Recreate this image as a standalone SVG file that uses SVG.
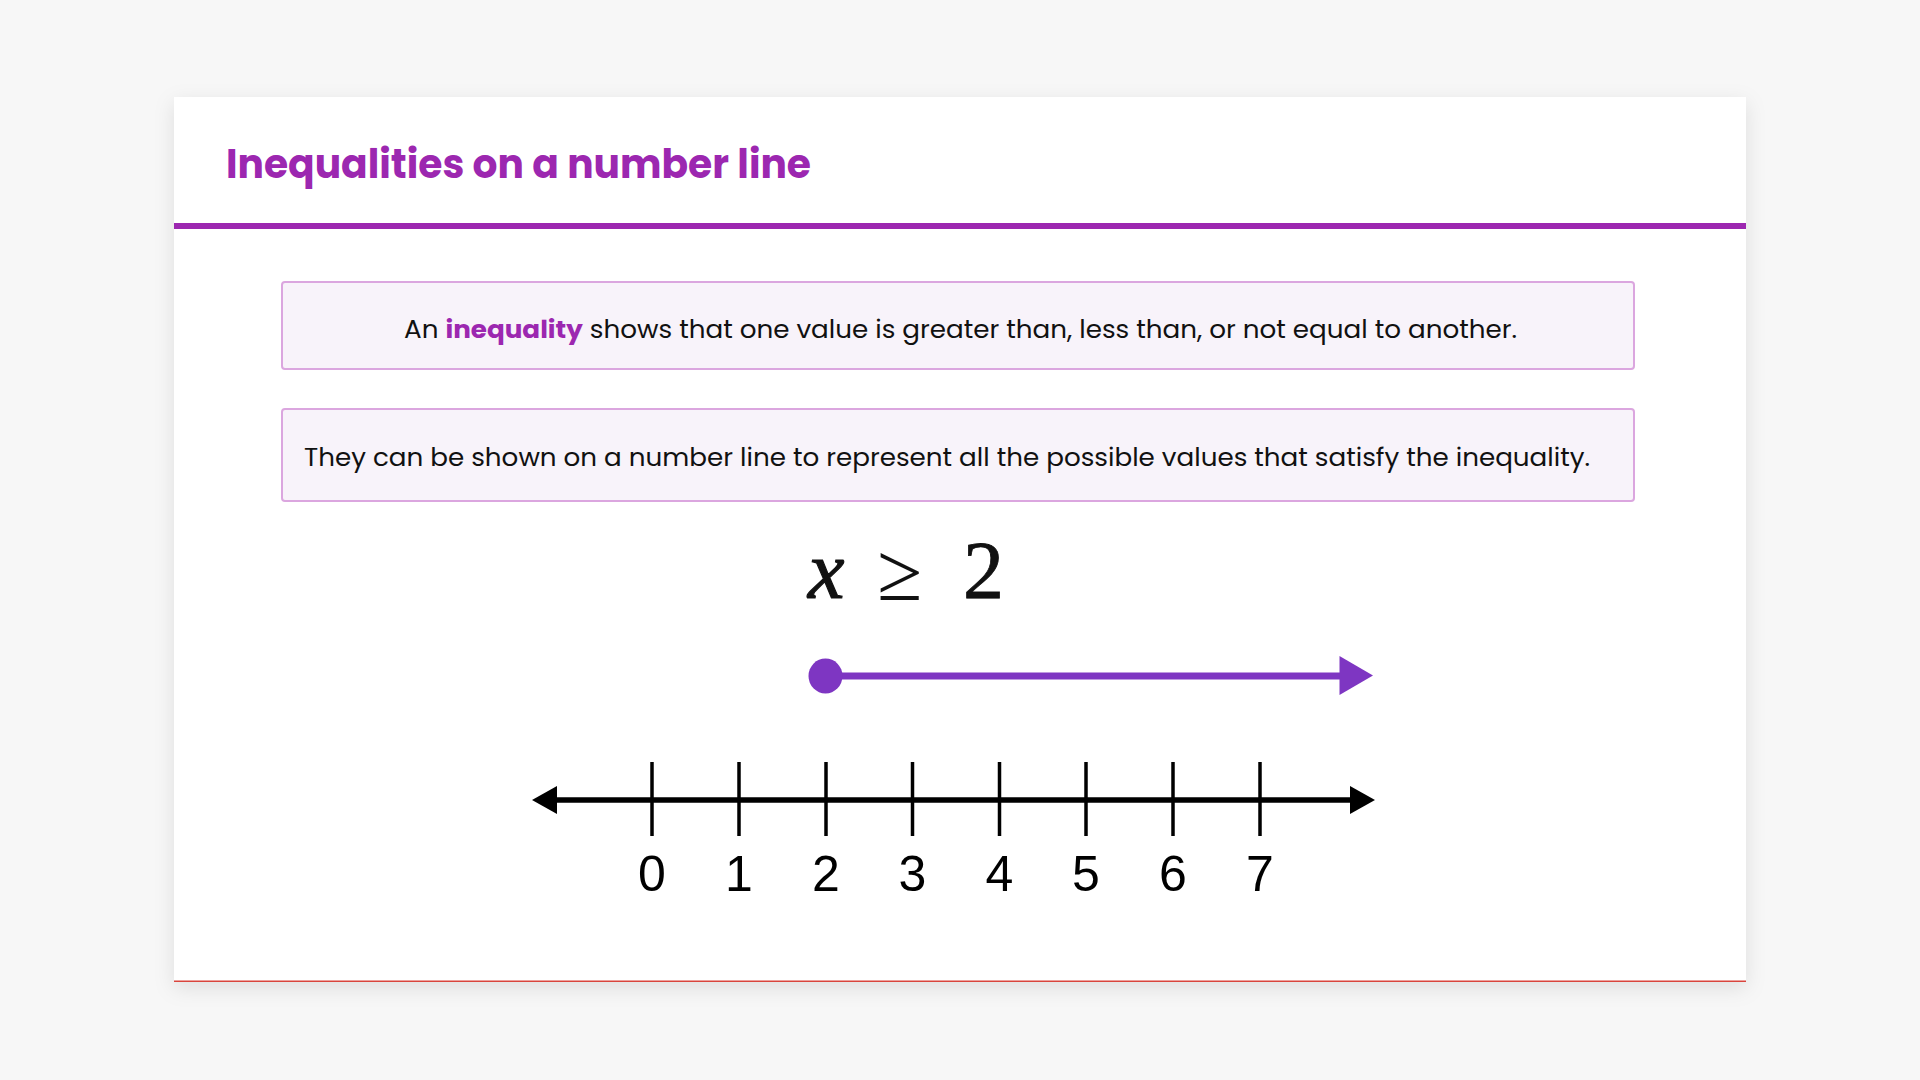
<svg xmlns="http://www.w3.org/2000/svg" width="1920" height="1080" viewBox="0 0 1920 1080">
<defs>
<filter id="sh" x="-10%" y="-10%" width="120%" height="125%">
<feDropShadow dx="0" dy="6" stdDeviation="10" flood-color="#000" flood-opacity="0.10"/>
</filter>
</defs>
<style>
.title{font-family:"Poppins","Noto Sans","Liberation Sans",sans-serif;font-weight:700;font-size:40px;fill:#9c27b0}
.box{fill:#f8f3fa;stroke:#dba6df;stroke-width:2}
.body{font-family:"Poppins","Noto Sans","Liberation Sans",sans-serif;font-size:25px;fill:#111}
.hl{font-weight:700;fill:#9c27b0}
.math{font-family:"Liberation Serif","DejaVu Serif",serif;font-size:82px;fill:#111}
.tick{stroke:#000;stroke-width:3.5}
.num{font-family:"Liberation Sans","DejaVu Sans",sans-serif;font-size:50px;fill:#000;text-anchor:middle}
</style>
<rect width="1920" height="1080" fill="#f7f7f7"/>
<g id="card">
<rect x="174" y="97" width="1572" height="885" fill="#fff" filter="url(#sh)"/>
<rect x="174" y="980.5" width="1572" height="1.5" fill="#d9453d"/>
<rect x="174" y="223" width="1572" height="6" fill="#9c27b0"/>
<text class="title" x="226" y="178" textLength="585" lengthAdjust="spacingAndGlyphs">Inequalities on a number line</text>
</g>
<g id="box1">
<rect class="box" x="282" y="282" width="1352" height="87" rx="3"/>
<text class="body" x="404" y="338" textLength="1113" lengthAdjust="spacingAndGlyphs">An <tspan class="hl">inequality</tspan> shows that one value is greater than, less than, or not equal to another.</text>
</g>
<g id="box2">
<rect class="box" x="282" y="409" width="1352" height="92" rx="3"/>
<text class="body" x="304" y="466" textLength="1286" lengthAdjust="spacingAndGlyphs">They can be shown on a number line to represent all the possible values that satisfy the inequality.</text>
</g>
<g id="inequality">
<text class="math" x="808" y="598" font-style="italic" stroke="#111" stroke-width="1.2">x</text>
<text class="math" x="877" y="600" font-family="DejaVu Serif" font-size="84">≥</text>
<text class="math" x="963" y="598" stroke="#111" stroke-width="0.8">2</text>
</g>
<g id="ray">
<line x1="825.5" y1="676" x2="1342" y2="676" stroke="#7e36c2" stroke-width="7"/>
<ellipse cx="825.5" cy="676" rx="17" ry="17.5" fill="#7e36c2"/>
<polygon points="1339.5,656 1373,675.5 1339.5,695" fill="#7e36c2"/>
</g>
<g id="numberline">
<line x1="550" y1="800" x2="1356" y2="800" stroke="#000" stroke-width="5.5"/>
<polygon points="532,800 557,786 557,814" fill="#000"/>
<polygon points="1375,800 1350,786 1350,814" fill="#000"/>
<line class="tick" x1="652" y1="762" x2="652" y2="836"/>
<line class="tick" x1="739" y1="762" x2="739" y2="836"/>
<line class="tick" x1="826" y1="762" x2="826" y2="836"/>
<line class="tick" x1="912.5" y1="762" x2="912.5" y2="836"/>
<line class="tick" x1="999.5" y1="762" x2="999.5" y2="836"/>
<line class="tick" x1="1086" y1="762" x2="1086" y2="836"/>
<line class="tick" x1="1173" y1="762" x2="1173" y2="836"/>
<line class="tick" x1="1260" y1="762" x2="1260" y2="836"/>
<text class="num" x="652" y="891">0</text>
<text class="num" x="739" y="891">1</text>
<text class="num" x="826" y="891">2</text>
<text class="num" x="912.5" y="891">3</text>
<text class="num" x="999.5" y="891">4</text>
<text class="num" x="1086" y="891">5</text>
<text class="num" x="1173" y="891">6</text>
<text class="num" x="1260" y="891">7</text>
</g>
</svg>
